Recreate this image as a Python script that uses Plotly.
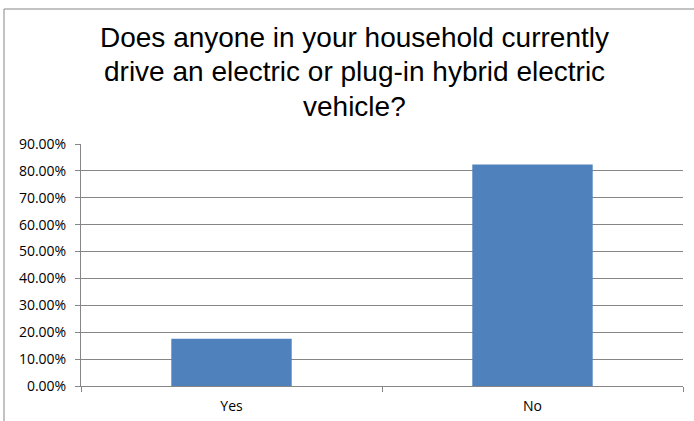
import plotly.graph_objects as go

categories = ["Yes", "No"]
values = [0.176, 0.824]
y_ticks = [0, 0.1, 0.2, 0.3, 0.4, 0.5, 0.6, 0.7, 0.8, 0.9]
title_lines = [
    "Does anyone in your household currently",
    "drive an electric or plug-in hybrid electric",
    "vehicle?",
]

fig = go.Figure(go.Bar(x=categories, y=values, marker=dict(color="#4F81BD", line=dict(width=0))))

W, H = 694, 421
L, R, T, B = 81, 11, 144, 35
pw = W - L - R
ph = H - T - B

def px_x(p):
    return (p - L) / pw

def px_y(p):
    return (H - B - p) / ph

tick_font = dict(family="Open Sans, Liberation Sans", size=14, color="black")

annotations = []
for i, line in enumerate(title_lines):
    annotations.append(dict(
        text=line, xref="paper", yref="paper", x=px_x(354), y=px_y(37.5 + 34.4 * i),
        xanchor="center", yanchor="middle", showarrow=False,
        font=dict(family="Liberation Sans, Arial", size=28, color="black"),
    ))

fig.update_layout(
    width=W, height=H,
    margin=dict(l=L, r=R, t=T, b=B),
    paper_bgcolor="white", plot_bgcolor="white",
    bargap=0.6,
    showlegend=False,
    annotations=annotations,
    xaxis=dict(showline=True, linecolor="#868686", linewidth=1, ticks="outside", ticklen=5,
               tickcolor="#868686", tickson="boundaries", showgrid=False, automargin=False,
               ticklabelstandoff=7, tickfont=tick_font),
    yaxis=dict(range=[0, 0.9], tickvals=y_ticks, tickformat=".2%", showline=True,
               linecolor="#868686", linewidth=1, ticks="outside", ticklen=5, tickcolor="#868686",
               showgrid=True, gridcolor="#868686", gridwidth=1, zeroline=False, automargin=False,
               ticklabelstandoff=6, tickfont=tick_font),
    shapes=[
        dict(type="line", xref="paper", yref="paper", x0=px_x(4), x1=px_x(694), y0=px_y(9), y1=px_y(9),
             line=dict(color="#868686", width=1)),
        dict(type="line", xref="paper", yref="paper", x0=px_x(4), x1=px_x(4), y0=px_y(9), y1=px_y(421),
             line=dict(color="#868686", width=1)),
    ],
)

fig.write_html("out.html")
